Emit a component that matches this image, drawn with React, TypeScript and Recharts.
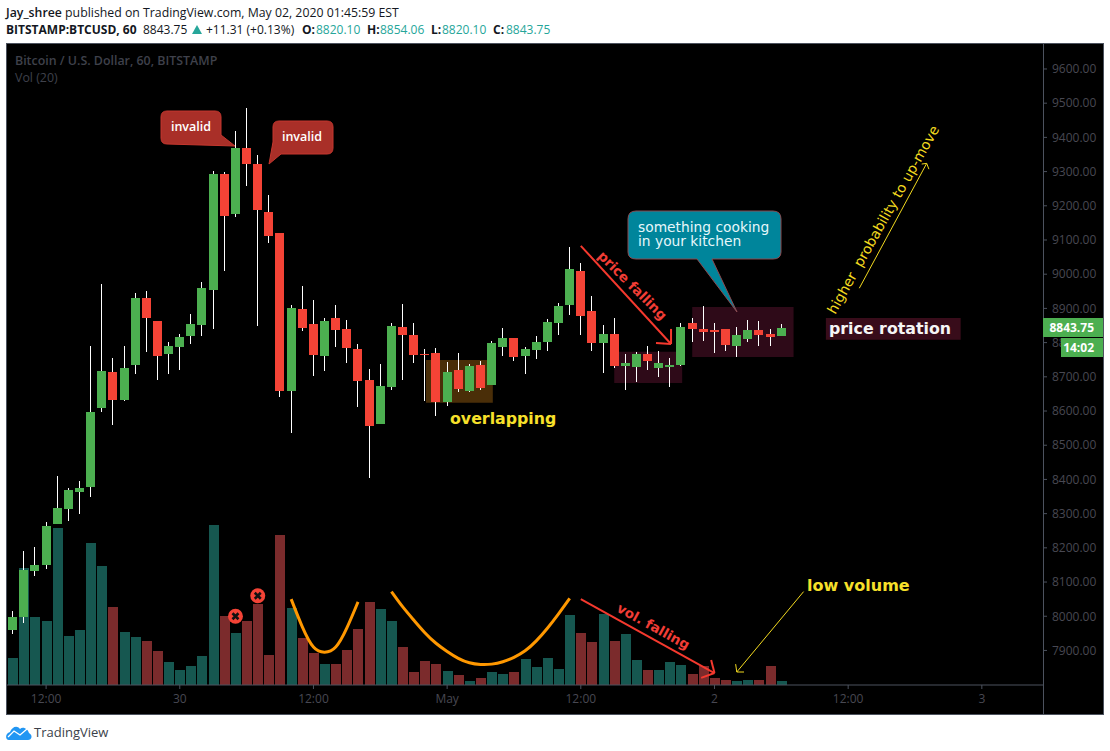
import React from "react";
import { ComposedChart, Bar, Line, XAxis, YAxis, ReferenceArea, ReferenceLine, ReferenceDot } from "recharts";

const opens = [7960,7998,8132,8150,8270,8314,8363,8378,8609,8714,8632,8735,8931,8863,8767,8787,8820,8852,8954,9293,9176,9369,9322,9182,9121,8659,8898,8855,8761,8872,8840,8782,8691,8562,8670,8846,8822,8767,8770,8627,8720,8659,8735,8676,8787,8814,8761,8779,8802,8858,8910,9010,8893,8799,8825,8732,8729,8767,8726,8729,8735,8858,8840,8837,8840,8790,8811,8837,8825,8820.1];
const highs = [8015,8191,8203,8276,8410,8375,8396,8790,8972,8755,8790,8945,8951,8863,8802,8825,8884,8977,9302,9299,9419,9486,9349,9232,9121,8910,8966,8925,8872,8910,8866,8796,8723,8738,8858,8913,8858,8782,8784,8744,8770,8738,8746,8805,8843,8814,8787,8820,8869,8916,9080,9033,8936,8852,8872,8767,8773,8790,8776,8755,8858,8872,8907,8858,8840,8846,8866,8863,8840,8854.06];
const lows = [7948,7980,8118,8138,8270,8279,8299,8349,8597,8559,8629,8708,8773,8691,8708,8720,8796,8820,8840,9010,9167,9258,8849,9091,8641,8536,8834,8703,8717,8787,8741,8612,8404,8562,8662,8691,8741,8629,8586,8615,8656,8656,8662,8676,8761,8746,8708,8752,8776,8822,8881,8822,8776,8711,8726,8662,8685,8720,8700,8670,8732,8802,8805,8770,8776,8758,8802,8790,8790,8820.1];
const closes = [7998,8135,8150,8264,8317,8369,8375,8597,8717,8632,8726,8931,8872,8761,8790,8817,8855,8960,9293,9170,9369,9322,9188,9112,8659,8901,8843,8764,8863,8837,8784,8688,8556,8673,8849,8822,8764,8764,8627,8714,8665,8732,8667,8799,8814,8758,8782,8802,8860,8907,9015,8878,8799,8825,8732,8741,8767,8746,8741,8735,8846,8840,8831,8831,8793,8822,8837,8822,8817,8843.75];
const volumes = [27,117,68,64,157,49,55,142,119,78,53,48,44,34,23,15,19,29,160,69,52,64,81,30,150,77,47,32,21,21,35,56,83,76,64,38,13,24,21,14,10,4,7,13,11,13,26,18,27,16,70,52,43,71,44,51,25,15,15,23,20,11,19,7,5,4,5,5,19,4];
const volumeDown = [9,12,13,19,21,22,23,24,26,27,29,30,31,32,35,36,37,38,40,42,45,51,52,54,57,61,62,63,64,67,68];

const curveOne: [number, number][] = [[25,8050],[26,7969],[27,7910],[28,7895],[29,7910],[30,7966],[31,8042]];
const curveTwo: [number, number][] = [[34,8072],[35,8028],[36,7989],[37,7952],[38,7921],[39,7897],[40,7877],[41,7864],[42,7859],[43,7860],[44,7867],[45,7880],[46,7899],[47,7928],[48,7965],[49,8007],[50,8052]];

const priceTicks = [7900,8000,8100,8200,8300,8400,8500,8600,8700,8800,8900,9000,9100,9200,9300,9400,9500,9600];
const timeTicks = [3,15,27,39,51,63,75,87];
const timeLabels = ["12:00","30","12:00","May","12:00","2","12:00","3"];

const table = opens.map((o, i) => ({
  i, open: o, high: highs[i], low: lows[i], close: closes[i], volume: volumes[i],
  down: volumeDown.includes(i),
  curveOne: curveOne.find((p) => p[0] === i)?.[1] ?? null,
  curveTwo: curveTwo.find((p) => p[0] === i)?.[1] ?? null,
}));

const zones = [
  { x1: 37.1, x2: 43.1, y1: 8624, y2: 8749, fill: "#4a2e08" },
  { x1: 54, x2: 60.1, y1: 8682, y2: 8773, fill: "#2e0a18" },
  { x1: 61, x2: 70.1, y1: 8758, y2: 8904, fill: "#2e0a18" },
  { x1: 73, x2: 85.1, y1: 8808, y2: 8872, fill: "#380c1a" },
];

const RED = "#f5392e";
const YELLOW = "#f2d91f";
const strokes: { s: [number, number, number, number]; c: string; w: number }[] = [
  { s: [51, 9083, 59.1, 8796], c: RED, w: 2 },
  { s: [57.75, 8799, 59.1, 8796], c: RED, w: 2 },
  { s: [59.1, 8840, 59.1, 8796], c: RED, w: 2 },
  { s: [51, 8050, 63, 7834], c: RED, w: 2 },
  { s: [61.8, 7820, 63, 7834], c: RED, w: 2 },
  { s: [62.7, 7872, 63, 7834], c: RED, w: 2 },
  { s: [71, 8072, 65, 7837], c: YELLOW, w: 1 },
  { s: [64.9, 7860, 65, 7837], c: YELLOW, w: 1 },
  { s: [65.65, 7837, 65, 7837], c: YELLOW, w: 1 },
  { s: [76, 8959, 82.05, 9324], c: YELLOW, w: 1 },
  { s: [81.6, 9322, 82.05, 9324], c: YELLOW, w: 1 },
  { s: [82.25, 9307, 82.05, 9324], c: YELLOW, w: 1 },
];

const invalidMarks = [{ i: 20, p: 8000 }, { i: 22, p: 8060 }];

const GRID = "#4c525e";
const AXIS_TEXT = "#484852";
const UI = "'Open Sans', 'Noto Sans', sans-serif";
const VERD = "'DejaVu Sans', sans-serif";

function Candle(props: any) {
  const { x, y, width, height, payload } = props;
  const up = payload.close >= payload.open;
  const k = height / Math.max(payload.high - payload.low, 1);
  const top = y + (payload.high - Math.max(payload.open, payload.close)) * k;
  const bot = y + (payload.high - Math.min(payload.open, payload.close)) * k;
  const cx = Math.floor(x + width / 2);
  const bTop = Math.round(top);
  const bH = Math.max(Math.round(bot) - bTop, 1);
  return (
    <g>
      <rect x={cx} y={Math.round(y)} width={1} height={Math.round(height)} fill="#ffffff" />
      <rect x={cx - 4} y={bTop} width={9} height={bH} fill={up ? "#4caf50" : "#f44336"} />
    </g>
  );
}

function VolumeBar(props: any) {
  const { x, y, width, height, payload } = props;
  const left = Math.round(x);
  const top = Math.round(y);
  return <rect x={left} y={top} width={Math.round(width)} height={Math.round(y + height) - top} fill={payload.down ? "#7b2b2c" : "#165750"} />;
}

function CrossDot(props: any) {
  const { cx, cy } = props;
  return (
    <g>
      <circle cx={cx} cy={cy} r={7.5} fill="#f44336" />
      <path d={`M${cx - 3} ${cy - 3}L${cx + 3} ${cy + 3}M${cx + 3} ${cy - 3}L${cx - 3} ${cy + 3}`} stroke="#111" strokeWidth={2.6} />
    </g>
  );
}

function Overlay() {
  return (
    <svg width={1110} height={751} style={{ position: "absolute", left: 0, top: 0, pointerEvents: "none" }}>
      <line x1={1043.5} x2={1043.5} y1={44} y2={714} stroke={GRID} />
      <text x={6} y={17} fontFamily={UI} fontSize={12.3} fill="#131722">
        <tspan fontWeight={600}>Jay_shree</tspan> published on TradingView.com, May 02, 2020 01:45:59 EST
      </text>
      <g fontFamily={UI} fontSize={12} fill="#131722">
        <text x={6} y={34} fontWeight={700}>BITSTAMP:BTCUSD, 60</text>
        <text x={143} y={34}>8843.75</text>
        <path d="M192 34L197 25L202 34Z" fill="#26a69a" />
        <text x={206} y={34}>+11.31 (+0.13%)</text>
        <text x={302} y={34} fontWeight={700}>O:</text>
        <text x={316} y={34} fill="#26a69a">8820.10</text>
        <text x={367} y={34} fontWeight={700}>H:</text>
        <text x={380} y={34} fill="#26a69a">8854.06</text>
        <text x={431} y={34} fontWeight={700}>L:</text>
        <text x={442} y={34} fill="#26a69a">8820.10</text>
        <text x={493} y={34} fontWeight={700}>C:</text>
        <text x={506} y={34} fill="#26a69a">8843.75</text>
      </g>
      <text x={15} y={65} fontFamily={UI} fontSize={12.4} fontWeight={600} fill="#3f414b">Bitcoin / U.S. Dollar, 60, BITSTAMP</text>
      <text x={15} y={82} fontFamily={UI} fontSize={12.4} fill="#3f414b">Vol (20)</text>

      <rect x={1043} y={318} width={60} height={19} fill="#4caf50" />
      <text x={1094} y={332} textAnchor="end" fontFamily={UI} fontSize={12} fontWeight={700} fill="#fff">8843.75</text>
      <rect x={1061} y={338} width={42} height={19} fill="#4caf50" />
      <text x={1094} y={352} textAnchor="end" fontFamily={UI} fontSize={12} fontWeight={700} fill="#fff">14:02</text>

      <path d="M167 111H215Q221 111 221 117V135L235 146L167 144Q161 144 161 138V117Q161 111 167 111Z" fill="#a92f28" stroke="#c5372e" />
      <text x={191} y={131} textAnchor="middle" fontFamily={UI} fontSize={12.5} fontWeight={600} fill="#fff">invalid</text>
      <path d="M279 121H327Q333 121 333 127V148Q333 154 327 154H281L269 164L273 142V127Q273 121 279 121Z" fill="#a92f28" stroke="#c5372e" />
      <text x={302} y={141} textAnchor="middle" fontFamily={UI} fontSize={12.5} fontWeight={600} fill="#fff">invalid</text>

      <path d="M636 211H773Q781 211 781 219V252Q781 259 773 259H712L737 312L697 259H636Q628 259 628 252V219Q628 211 636 211Z" fill="#00859b" stroke="#8a4a50" />
      <text x={638} y={232} fontFamily={VERD} fontSize={13.8} fill="#e6f7fa">something cooking</text>
      <text x={638} y={246} fontFamily={VERD} fontSize={13.8} fill="#e6f7fa">in your kitchen</text>

      <text x={450} y={424} fontFamily={VERD} fontSize={15.8} fontWeight={700} fill="#f7e02a">overlapping</text>
      <text x={807} y={591} fontFamily={VERD} fontSize={16} fontWeight={700} fill="#f7e02a">low volume</text>
      <text x={829} y={334} fontFamily={VERD} fontSize={15.8} fontWeight={700} fill="#f5f5f5">price rotation</text>
      <text transform="translate(632 286) rotate(45)" textAnchor="middle" dominantBaseline="middle" fontFamily={VERD} fontSize={13.5} fontWeight={700} fill="#f23d36">price falling</text>
      <text transform="translate(653 627) rotate(29)" textAnchor="middle" dominantBaseline="middle" fontFamily={VERD} fontSize={13.5} fontWeight={700} fill="#f23d36">vol. falling</text>
      <text transform="translate(884 220) rotate(-60.7)" textAnchor="middle" dominantBaseline="middle" fontFamily={VERD} fontSize={14} fill={YELLOW} style={{ whiteSpace: "pre" }}>higher  probability to up-move</text>

      <path d="M9 740C5 740 5 733 10 732C12 727 17 725 20 729C23 726 28 729 29 733C33 735 32 740 28 740Z" fill="#2196f3" />
      <path d="M8 737L14 731L20 735L27 729" fill="none" stroke="#fff" strokeWidth={1.3} />
      <text x={34} y={737} fontFamily={UI} fontSize={13} fill="#3b3f4a">TradingView</text>
    </svg>
  );
}

export default function App() {
  return (
    <div style={{ position: "absolute", left: 0, top: 0, width: 1110, height: 751, background: "#fff", overflow: "hidden" }}>
      <div style={{ position: "absolute", left: 6, top: 43, width: 1096, height: 670, background: "#000", border: `1px solid ${GRID}` }} />
      <div style={{ position: "absolute", left: 0, top: 0 }}>
        <ComposedChart width={1110} height={751} data={table} margin={{ top: 44, right: 10, bottom: 37, left: 7 }}>
          <XAxis
            dataKey="i" xAxisId="main" type="number" domain={[-0.51, 92.49]} allowDataOverflow
            ticks={timeTicks} tickFormatter={(v: number) => timeLabels[timeTicks.indexOf(v)]}
            height={29} tickSize={4} tickMargin={5} interval={0}
            stroke={GRID} tick={{ fill: AXIS_TEXT, fontFamily: UI, fontSize: 12 }}
          />
          <XAxis dataKey="i" xAxisId="vol" type="number" domain={[-0.51, 92.49]} allowDataOverflow hide />
          <YAxis
            yAxisId="price" orientation="right" type="number" domain={[7799, 9673]} allowDataOverflow
            ticks={priceTicks} tickFormatter={(v: number) => v.toFixed(2)} width={57} interval={0}
            tickSize={4} tickMargin={5} axisLine={false} stroke={GRID}
            tick={{ fill: AXIS_TEXT, fontFamily: UI, fontSize: 12 }}
          />
          <YAxis yAxisId="vol" orientation="left" type="number" domain={[0, 641]} allowDataOverflow hide />
          {zones.map((z, n) => (
            <ReferenceArea key={n} xAxisId="main" yAxisId="price" x1={z.x1} x2={z.x2} y1={z.y1} y2={z.y2} fill={z.fill} fillOpacity={1} stroke="none" ifOverflow="visible" />
          ))}
          <Bar xAxisId="vol" yAxisId="vol" dataKey="volume" barSize={10} shape={VolumeBar} isAnimationActive={false} />
          <Bar xAxisId="main" yAxisId="price" dataKey={(d: any) => [d.low, d.high]} barSize={9} shape={Candle} isAnimationActive={false} />
          <Line xAxisId="main" yAxisId="price" dataKey="curveOne" type="natural" stroke="#ff9800" strokeWidth={3} dot={false} activeDot={false} isAnimationActive={false} />
          <Line xAxisId="main" yAxisId="price" dataKey="curveTwo" type="natural" stroke="#ff9800" strokeWidth={3} dot={false} activeDot={false} isAnimationActive={false} />
          {strokes.map((a, n) => (
            <ReferenceLine key={n} xAxisId="main" yAxisId="price" ifOverflow="visible" stroke={a.c} strokeWidth={a.w}
              segment={[{ x: a.s[0], y: a.s[1] }, { x: a.s[2], y: a.s[3] }]} />
          ))}
          {invalidMarks.map((m, n) => (
            <ReferenceDot key={n} xAxisId="main" yAxisId="price" x={m.i} y={m.p} r={7.5} shape={CrossDot} ifOverflow="visible" />
          ))}
        </ComposedChart>
      </div>
      <Overlay />
    </div>
  );
}
